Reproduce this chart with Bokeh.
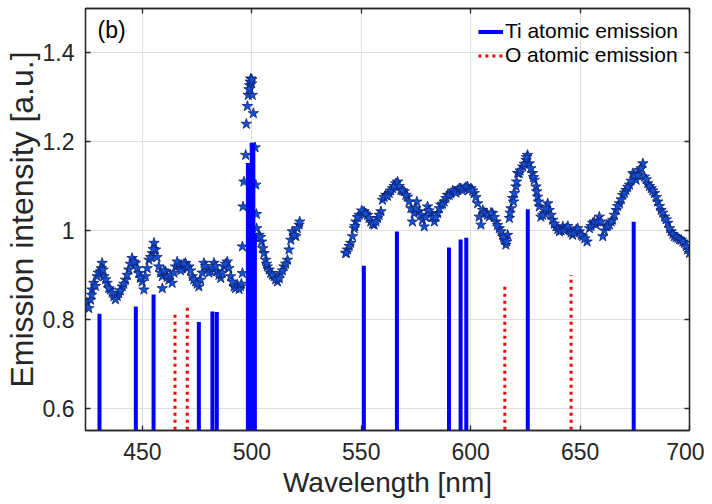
from bokeh.plotting import figure
from bokeh.models import (LinearAxis, FixedTicker, CustomJSTickFormatter, Range1d,
                          Legend, LegendItem, Label, ColumnDataSource)
from bokeh.embed import file_html
from bokeh.resources import INLINE

# ---- measured spectrum (stars): centre of the band ----
wavelength = [
    424.8, 426.3, 427.0, 427.8, 429.3, 430.9, 431.6, 432.4, 433.9, 435.4, 437.0, 438.5, 439.2,
    440.8, 442.3, 443.8, 445.3, 446.9, 448.4, 449.9, 450.7, 451.4, 453.0, 454.5, 455.3, 456.0,
    457.5, 459.1, 459.1, 460.6, 462.1, 463.6, 465.2, 466.7, 468.2, 469.7, 471.3, 472.8, 474.3,
    475.8, 476.6, 478.1, 479.7, 481.2, 482.7, 484.2, 485.8, 487.3, 488.8, 490.3, 491.9, 493.4,
    494.9, 495.7, 495.7, 496.0, 496.4, 497.2, 497.5, 498.0, 498.4, 499.0, 499.5, 499.9, 500.2,
    500.7, 501.5, 501.8, 502.1, 502.2, 503.3, 504.5, 505.6, 506.3, 507.1, 507.9, 508.6, 510.2,
    511.7, 513.2, 514.7, 516.3, 517.0, 517.8, 518.5, 520.1, 521.6, 521.9,
    542.9, 543.7, 545.2, 546.0, 546.8, 547.5, 549.0, 551.3, 552.9, 554.4, 555.9, 557.4, 559.0,
    559.7, 561.2, 562.8, 564.3, 565.8, 566.6, 568.1, 569.6, 571.1, 572.7, 573.4, 574.2, 575.4,
    576.5, 578.0, 578.8, 580.3, 581.8, 583.4, 584.9, 586.4, 587.9, 589.4, 591.0, 592.5, 594.0,
    595.5, 597.1, 598.6, 600.1, 601.6, 603.2, 603.9, 604.7, 605.5, 607.0, 608.5, 610.0, 611.6,
    613.1, 614.6, 615.4, 616.1, 616.9, 617.7, 618.4, 619.2, 620.0, 620.7, 621.5,
    622.2, 623.8, 625.3, 626.0, 626.8, 628.3, 629.1, 629.9, 630.6, 631.4, 632.1, 633.7, 635.2,
    635.9, 637.5, 639.0, 640.5, 642.1, 643.6, 645.1, 646.6, 648.2, 649.7, 651.2, 653.2, 654.3,
    655.8, 657.3, 658.8, 660.4, 661.9, 663.4, 664.9, 666.5, 668.0, 669.5, 671.0, 672.6, 674.1,
    675.6, 677.1, 678.7, 679.4, 680.9, 682.5, 684.0, 685.5, 687.0, 688.6, 690.1, 691.6, 693.1,
    694.7, 696.2, 697.7, 699.2, 700.0,
]
intensity = [
    0.837, 0.844, 0.867, 0.882, 0.897, 0.908, 0.927, 0.897, 0.882, 0.867, 0.852, 0.852, 0.859,
    0.874, 0.889, 0.912, 0.938, 0.927, 0.904, 0.885, 0.867, 0.897, 0.934, 0.949, 0.972, 0.957,
    0.919, 0.897, 0.870, 0.908, 0.889, 0.882, 0.919, 0.923, 0.915, 0.927, 0.919, 0.897, 0.885,
    0.874, 0.889, 0.927, 0.912, 0.908, 0.927, 0.908, 0.893, 0.919, 0.930, 0.897, 0.874, 0.878,
    0.874, 0.904, 0.964, 1.054, 1.110, 1.170, 1.240, 1.280, 1.305, 1.327, 1.342, 1.331, 1.305,
    1.264, 1.187, 1.103, 1.037, 1.005, 0.990, 0.975, 0.949, 0.934, 0.919, 0.912, 0.904, 0.897,
    0.885, 0.904, 0.919, 0.934, 0.957, 0.979, 0.998, 0.987, 1.013, 1.020,
    0.949, 0.957, 0.972, 0.987, 1.005, 1.020, 1.035, 1.043, 1.035, 1.020, 1.013, 1.028, 1.043,
    1.069, 1.080, 1.084, 1.095, 1.106, 1.110, 1.091, 1.088, 1.076, 1.050, 1.020, 1.039, 1.065,
    1.043, 1.024, 1.009, 1.054, 1.039, 1.020, 1.039, 1.058, 1.065, 1.080, 1.084, 1.088, 1.091,
    1.095, 1.095, 1.099, 1.095, 1.084, 1.061, 1.031, 1.013, 1.046, 1.039, 1.031, 1.039, 1.020,
    1.005, 0.990, 0.979, 0.968, 0.990, 1.028, 1.050, 1.073, 1.084, 1.099, 1.129,
    1.129, 1.144, 1.159, 1.170, 1.151, 1.129, 1.114, 1.099, 1.076, 1.054, 1.031, 1.039, 1.061,
    1.046, 1.024, 1.009, 0.998, 1.009, 1.005, 1.002, 0.990, 1.002, 0.998, 0.987, 0.975, 1.005,
    1.017, 1.013, 1.031, 0.987, 1.009, 1.013, 1.024, 1.046, 1.061, 1.080, 1.091, 1.103, 1.129,
    1.114, 1.136, 1.151, 1.121, 1.106, 1.095, 1.084, 1.065, 1.046, 1.031, 1.017, 0.998, 0.987,
    0.983, 0.979, 0.972, 0.957, 0.949,
]

wavelength_extra = [
    425.5, 426.8, 428.5, 429.9, 431.2, 432.0, 433.2, 434.6, 436.2, 437.7, 439.9, 441.5, 443.0,
    444.5, 446.1, 447.6, 449.1, 452.2, 453.8, 455.0, 456.7, 458.3, 459.8, 461.3, 462.9, 464.4,
    465.9, 467.5, 469.0, 470.5, 472.0, 473.5, 475.0, 477.3, 478.9, 480.4, 482.0, 483.5, 485.0,
    486.5, 488.0, 489.5, 491.1, 492.6, 494.2, 495.2, 498.7, 499.3, 500.0, 503.9, 505.0, 506.7,
    509.4, 510.9, 512.5, 514.0, 515.5, 519.3, 520.8,
    543.2, 544.5, 547.1, 548.3, 550.2, 552.0, 553.6, 555.2, 556.7, 558.2, 560.5, 562.0, 563.5,
    565.0, 567.3, 568.9, 570.4, 571.9, 575.0, 577.3, 579.5, 581.0, 582.6, 584.1, 585.7, 587.2,
    588.7, 590.2, 591.8, 593.3, 594.8, 596.3, 597.8, 599.3, 600.9, 602.4, 606.2, 607.7, 609.3,
    610.8, 612.3, 613.9, 615.0, 616.5, 618.0, 619.6, 621.0, 622.6, 624.5, 625.6, 627.5, 628.7,
    630.2, 631.0, 632.9, 634.4, 636.7, 638.2, 639.8, 641.3, 642.8, 644.4, 645.9, 647.4, 648.9,
    650.5, 652.2, 655.0, 656.5, 658.0, 659.6, 661.1, 662.6, 664.2, 665.7, 667.2, 668.8, 670.3,
    671.8, 673.3, 674.9, 676.4, 677.9, 680.2, 681.7, 683.2, 684.8, 686.3, 687.8, 689.3, 690.9,
    692.4, 693.9, 695.5, 697.0, 698.5,
]
intensity_extra = [
    0.825, 0.855, 0.875, 0.905, 0.915, 0.912, 0.890, 0.870, 0.860, 0.845, 0.865, 0.880, 0.900,
    0.925, 0.930, 0.915, 0.893, 0.915, 0.940, 0.958, 0.940, 0.905, 0.910, 0.895, 0.900, 0.905,
    0.930, 0.910, 0.925, 0.915, 0.910, 0.890, 0.880, 0.905, 0.920, 0.905, 0.915, 0.920, 0.900,
    0.905, 0.925, 0.915, 0.885, 0.870, 0.868, 0.880, 1.318, 1.335, 1.340, 0.985, 0.960, 0.925,
    0.900, 0.890, 0.892, 0.910, 0.925, 0.990, 1.005,
    0.950, 0.965, 1.010, 1.030, 1.045, 1.038, 1.028, 1.015, 1.020, 1.035, 1.075, 1.078, 1.090,
    1.100, 1.100, 1.090, 1.080, 1.065, 1.050, 1.035, 1.030, 1.045, 1.030, 1.030, 1.050, 1.060,
    1.073, 1.080, 1.090, 1.085, 1.095, 1.090, 1.098, 1.092, 1.090, 1.075, 1.040, 1.035, 1.040,
    1.030, 1.012, 0.998, 0.985, 0.975, 1.040, 1.065, 1.110, 1.135, 1.150, 1.165, 1.140, 1.120,
    1.088, 1.065, 1.035, 1.050, 1.035, 1.015, 1.003, 1.000, 1.000, 1.010, 0.995, 0.995, 1.005,
    0.990, 0.982, 1.010, 1.020, 1.020, 1.020, 1.000, 1.010, 1.020, 1.035, 1.055, 1.070, 1.085,
    1.098, 1.112, 1.125, 1.125, 1.140, 1.115, 1.100, 1.090, 1.075, 1.055, 1.040, 1.025, 1.005,
    0.992, 0.985, 0.980, 0.975, 0.965,
]

# ---- Ti atomic emission lines ----
ti_wavelength = [430.4, 447.0, 455.1, 475.8, 482.0, 484.0, 498.2, 499.1, 501.4, 499.95, 500.7,
                 551.2, 566.3, 590.1, 595.4, 598.0, 626.1, 674.5]
ti_height = [0.813, 0.829, 0.856, 0.794, 0.818, 0.817, 1.152, 1.152, 0.995, 1.198, 1.198,
             0.921, 0.998, 0.962, 0.980, 0.984, 1.048, 1.020]

# ---- O atomic emission lines ----
o_wavelength = [464.9, 470.5, 615.6, 645.9]
o_height = [0.819, 0.829, 0.880, 0.900]

baseline = 0.0
x_ticks = [450, 500, 550, 600, 650, 700]
y_ticks = [0.6, 0.8, 1.0, 1.2, 1.4]

FONT = "Liberation Sans"
DARK = "#262626"

p = figure(frame_width=604, frame_height=422, output_backend="svg", toolbar_location=None,
           x_range=Range1d(424, 700), y_range=Range1d(0.55, 1.5),
           min_border_left=77, min_border_right=15, min_border_top=8, min_border_bottom=58)
p.background_fill_color = "white"
p.outline_line_color = DARK
p.outline_line_width = 1.3

for ax in p.xaxis + p.yaxis:
    ax.major_tick_in = 5
    ax.major_tick_out = 0
    ax.minor_tick_line_color = None
    ax.axis_line_color = DARK
    ax.axis_line_width = 1.3
    ax.major_tick_line_color = DARK
    ax.major_tick_line_width = 1.3
    ax.major_label_text_font = FONT
    ax.major_label_text_font_size = "23px"
    ax.major_label_text_color = DARK
    ax.axis_label_text_font = FONT
    ax.axis_label_text_font_style = "normal"
    ax.axis_label_text_color = DARK

p.xaxis.ticker = FixedTicker(ticks=x_ticks)
p.yaxis.ticker = FixedTicker(ticks=y_ticks)
p.yaxis.formatter = CustomJSTickFormatter(code="return Number(tick.toFixed(1)).toString();")
p.xaxis.axis_label = "Wavelength [nm]"
p.yaxis.axis_label = "Emission intensity [a.u.]"
p.xaxis.axis_label_text_font_size = "28px"
p.yaxis.axis_label_text_font_size = "32px"
p.xaxis.major_label_standoff = 12
p.yaxis.major_label_standoff = 11
p.xaxis.axis_label_standoff = 4
p.yaxis.axis_label_standoff = 0

# mirrored axes (ticks only, labels not drawn)
for loc, ticks in (("above", x_ticks), ("right", y_ticks)):
    ax = LinearAxis(ticker=FixedTicker(ticks=ticks), major_label_text_color=None,
                    major_label_text_font_size="1px",
                    major_label_standoff=0, major_tick_in=5, major_tick_out=0,
                    minor_tick_line_color=None, axis_line_color=DARK, axis_line_width=1.3,
                    major_tick_line_color=DARK, major_tick_line_width=1.3)
    p.add_layout(ax, loc)

p.xgrid.ticker = FixedTicker(ticks=x_ticks)
p.ygrid.ticker = FixedTicker(ticks=y_ticks)
p.grid.grid_line_color = "#dedede"
p.grid.grid_line_width = 1

# stars
p.scatter(wavelength + wavelength_extra, intensity + intensity_extra, marker="star", size=11,
          fill_color="#1450d6", line_color="#0b1f70", line_width=0.8)

# lines
ti_src = ColumnDataSource(dict(x=ti_wavelength, y0=[baseline] * len(ti_wavelength), y1=ti_height))
o_src = ColumnDataSource(dict(x=o_wavelength, y0=[baseline] * len(o_wavelength), y1=o_height))
ti_r = p.segment(x0="x", y0="y0", x1="x", y1="y1", source=ti_src, line_color="#0000ff",
                 line_width=4, line_cap="butt")
o_r = p.segment(x0="x", y0="y0", x1="x", y1="y1", source=o_src, line_color="#ff0000",
                line_width=3, line_dash="3 4", line_cap="butt")

legend = Legend(items=[LegendItem(label="Ti atomic emission", renderers=[ti_r]),
                       LegendItem(label="O atomic emission", renderers=[o_r])],
                location="top_right", border_line_color=None, background_fill_alpha=0,
                label_text_font=FONT, label_text_font_size="21px", label_text_color="black",
                glyph_width=25, glyph_height=23, label_height=23, label_standoff=2,
                spacing=0, padding=4, margin=11)
p.add_layout(legend)

p.add_layout(Label(x=429.5, y=1.451, text="(b)", text_baseline="middle", text_font=FONT,
                   text_font_size="23px", text_color="black"))

open("out.html", "w").write(file_html(p, INLINE))
